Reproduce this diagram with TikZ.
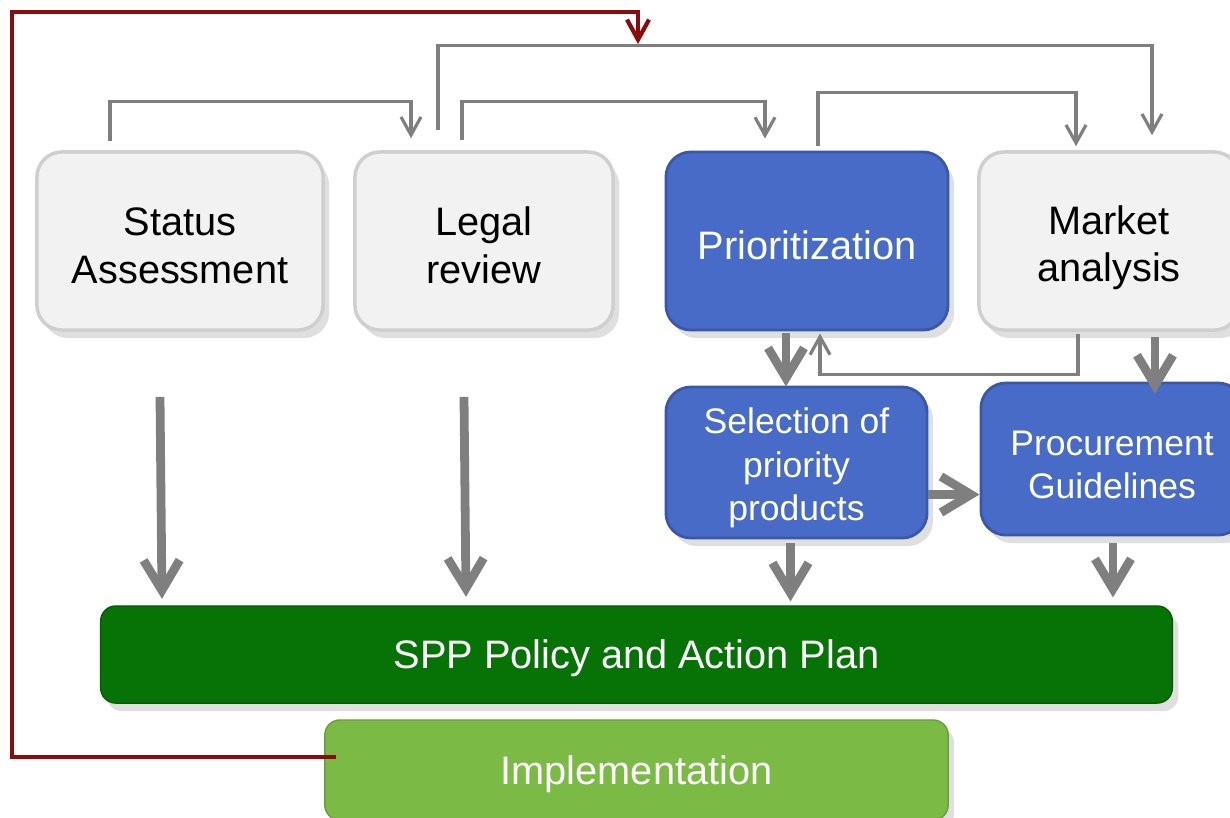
\documentclass[tikz,border=0pt]{standalone}
\usepackage{fontspec}
\setmainfont{Liberation Sans}
\usetikzlibrary{positioning,calc,arrows.meta,shadows}

\definecolor{boxgrey}{HTML}{F2F2F2}
\definecolor{boxgreyline}{HTML}{CFCFCF}
\definecolor{stepblue}{HTML}{476BC6}
\definecolor{stepblueline}{HTML}{3A58A8}
\definecolor{plangreen}{HTML}{077307}
\definecolor{implgreen}{HTML}{7BBB45}
\definecolor{linkgrey}{HTML}{7F7F7F}
\definecolor{loopred}{HTML}{8B0A0A}

% pushes the first line a little lower in the box
\newcommand{\boxstrut}{\rule{0pt}{10.4pt}}

\begin{document}
\begin{tikzpicture}[x=0.01cm,y=-0.01cm,
  box/.style={rounded corners=0.25cm,inner sep=0pt,align=center,
    font=\fontsize{11.3}{13.6}\selectfont,
    drop shadow={opacity=0.25,shadow xshift=0.6mm,shadow yshift=-0.8mm}},
  greybox/.style={box,fill=boxgrey,draw=boxgreyline,line width=1pt,text=black},
  bluebox/.style={box,fill=stepblue,draw=stepblueline,line width=0.8pt,text=white},
  lowbox/.style={bluebox,font=\fontsize{10.1}{12.4}\selectfont},
  planbox/.style={box,rounded corners=0.15cm,fill=plangreen,draw=plangreen!80!black,text=white},
  implbox/.style={box,rounded corners=0.15cm,fill=implgreen,draw=implgreen!85!black,text=white},
  link/.style={draw=linkgrey,line width=0.9pt,-{Straight Barb[length=0.18cm,width=0.2cm]}},
  fat/.style={draw=linkgrey,line width=2.5pt,-{Straight Barb[length=0.3cm,width=0.36cm]}},
  feedback/.style={draw=loopred,line width=1.2pt,-{Straight Barb[length=0.2cm,width=0.22cm]}}]
 \useasboundingbox (0,0) rectangle (1230,817);
 %
 \node[greybox,minimum width=2.86cm,minimum height=1.78cm] (status) at (180,241) {\boxstrut Status\\Assessment};
 \node[greybox,minimum width=2.58cm,minimum height=1.78cm] (legal) at (484,241) {\boxstrut Legal\\review};
 \node[bluebox,minimum width=2.82cm,minimum height=1.78cm] (prio) at (807,241) {\boxstrut Prioritization};
 \node[greybox,minimum width=2.60cm,minimum height=1.78cm] (market) at (1109,241) {\rule{0pt}{12pt}Market\\analysis};
 \node[lowbox,minimum width=2.61cm,minimum height=1.51cm] (select) at (796.5,462.5) {\boxstrut Selection of\\priority\\products};
 \node[lowbox,minimum width=2.62cm,minimum height=1.52cm] (procure) at (1112,459) {\boxstrut Procurement\\Guidelines};
 \node[planbox,minimum width=10.71cm,minimum height=0.97cm] (plan) at (636.5,654.5) {\boxstrut SPP Policy and Action Plan};
 \node[implbox,minimum width=6.23cm,minimum height=1.0cm] (impl) at (636.5,770) {\boxstrut Implementation};
 \coordinate (corner) at (12,12);
 \coordinate (loop) at (638,44);
 %
 % thin links along the top
 \draw[link] ($(status.north)+(-70,-9)$) -- ++(0,-40) -| ($(legal.north)+(-73,-12)$);
 \draw[link] ($(legal.north)+(-46,-20)$) -- ++(0,-85) -| ($(market.north)+(43,-15)$);
 \draw[link] ($(legal.north)+(-22,-10)$) -- ++(0,-39) -| ($(prio.north)+(-42,-12)$);
 \draw[link] ($(prio.north)+(11,-5)$) -- ++(0,-53) -| ($(market.north)+(-33,-4)$);
 \draw[link] ($(market.south)+(-31,2)$) -- ++(0,41) -| ($(prio.south)+(13,2)$);
 %
 % main flow
 \draw[fat] ($(status.south)+(-20,65)$) -- ++(2,202);
 \draw[fat] ($(legal.south)+(-20,65)$) -- ++(2,200);
 \draw[fat] ($(prio.south)+(-21,2)$) -- ++(0,53);
 \draw[fat] ($(market.south)+(46,5)$) -- ++(0,57);
 \draw[fat] ($(select.east)+(0,32)$) -- ++(51,0);
 \draw[fat] ($(select.south)+(-6,4)$) -- ++(0,58);
 \draw[fat] ($(procure.south)+(1,7)$) -- ++(0,54);
 %
 % feedback from implementation
 \draw[feedback] ($(impl.west)+(12,-13)$) -| (corner) -| (loop);
\end{tikzpicture}
\end{document}
